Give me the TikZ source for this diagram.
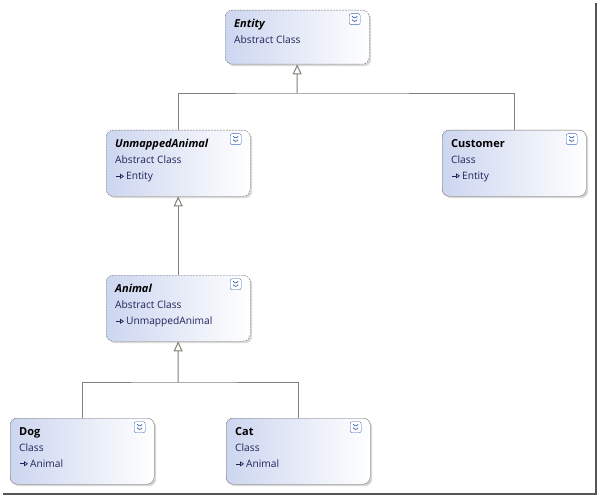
\documentclass[tikz,border=0pt]{standalone}
\usepackage{fontspec}
\setmainfont{Open Sans}
\usetikzlibrary{positioning,shadows,arrows.meta}

\definecolor{fondclasse}{RGB}{205,214,240}
\definecolor{bordclasse}{RGB}{110,110,110}
\definecolor{textclasse}{RGB}{30,36,90}
\definecolor{lien}{RGB}{128,128,118}
\definecolor{icone}{RGB}{70,105,185}
\definecolor{ombrecadre}{RGB}{85,85,85}

\newcommand{\titreabs}[1]{{\fontsize{11pt}{16pt}\selectfont\textbf{\textit{#1}}}}
\newcommand{\titre}[1]{{\fontsize{11pt}{16pt}\selectfont\textbf{#1}}}
\newcommand{\herite}{\tikz[baseline=-0.6ex]\draw[line width=0.7pt,-{Triangle[open,length=4pt,width=5pt]}] (0pt,0pt) -- (8.5pt,0pt);\,}

\tikzset{
  classe/.style={rectangle, rounded corners=7pt, anchor=north west,
    minimum width=144pt, minimum height=66pt, inner sep=0pt,
    left color=fondclasse, right color=white,
    drop shadow={shadow xshift=2pt, shadow yshift=-2pt, opacity=0.3}},
  abstraite/.style={classe, draw=bordclasse, dash pattern=on 2pt off 1pt},
  concrete/.style={classe, draw=bordclasse},
  texte/.style={align=left, inner sep=0pt, text=textclasse,
    font=\fontsize{10.2pt}{16pt}\selectfont},
  bouton/.style={rectangle, rounded corners=2pt, draw=icone, fill=white,
    minimum size=11pt, inner sep=0pt,
    path picture={
      \draw[draw=icone, line width=0.8pt, shift={(path picture bounding box.center)}]
        (-2.5pt,3pt) -- (0pt,0.5pt) -- (2.5pt,3pt)
        (-2.5pt,-0.5pt) -- (0pt,-3pt) -- (2.5pt,-0.5pt);}},
  lien/.style={draw=lien, line width=1pt},
  heritage/.style={lien, -{Triangle[open,length=10pt,width=9pt]}}
}

\begin{document}
\begin{tikzpicture}[x=1pt,y=-1pt]
% Cadre de la capture
\useasboundingbox (0,0) rectangle (599,497);
\draw[ombrecadre, line width=2.5pt] (596,3) -- (596,494) -- (3,494);

% Classes
\node[abstraite, minimum height=54pt] (entity) at (225,10) {};
\node[abstraite] (unmapped) at (106,130) {};
\node[concrete] (customer) at (442,130) {};
\node[abstraite] (animal) at (106,275) {};
\node[concrete] (dog) at (10,418) {};
\node[concrete] (cat) at (226,418) {};

% Textes des classes
\node[texte, below right=9pt and 9pt of entity.north west] (entity-txt)
  {\textcolor{black}{\titreabs{Entity}}\\Abstract Class};
\node[texte, below right=9pt and 9pt of unmapped.north west] (unmapped-txt)
  {\textcolor{black}{\titreabs{UnmappedAnimal}}\\Abstract Class\\\herite Entity};
\node[texte, below right=9pt and 9pt of customer.north west] (customer-txt)
  {\textcolor{black}{\titre{Customer}}\\Class\\\herite Entity};
\node[texte, below right=9pt and 9pt of animal.north west] (animal-txt)
  {\textcolor{black}{\titreabs{Animal}}\\Abstract Class\\\herite UnmappedAnimal};
\node[texte, below right=9pt and 9pt of dog.north west] (dog-txt)
  {\textcolor{black}{\titre{Dog}}\\Class\\\herite Animal};
\node[texte, below right=9pt and 9pt of cat.north west] (cat-txt)
  {\textcolor{black}{\titre{Cat}}\\Class\\\herite Animal};

% Boutons de repli
\node[bouton, below left=3.5pt and 9pt of entity.north east] (entity-ico) {};
\node[bouton, below left=3.5pt and 9pt of unmapped.north east] (unmapped-ico) {};
\node[bouton, below left=3.5pt and 9pt of customer.north east] (customer-ico) {};
\node[bouton, below left=3.5pt and 9pt of animal.north east] (animal-ico) {};
\node[bouton, below left=3.5pt and 9pt of dog.north east] (dog-ico) {};
\node[bouton, below left=3.5pt and 9pt of cat.north east] (cat-ico) {};

% Liens d'heritage
\coordinate (jonction1) at (297,94);
\coordinate (jonction2) at (178,382);
\draw[lien] (unmapped.north) |- (jonction1) -| (customer.north);
\draw[heritage] (jonction1) -- (entity.south);
\draw[heritage] (animal.north) -- (unmapped.south);
\draw[lien] (dog.north) |- (jonction2) -| (cat.north);
\draw[heritage] (jonction2) -- (animal.south);

\end{tikzpicture}
\end{document}
